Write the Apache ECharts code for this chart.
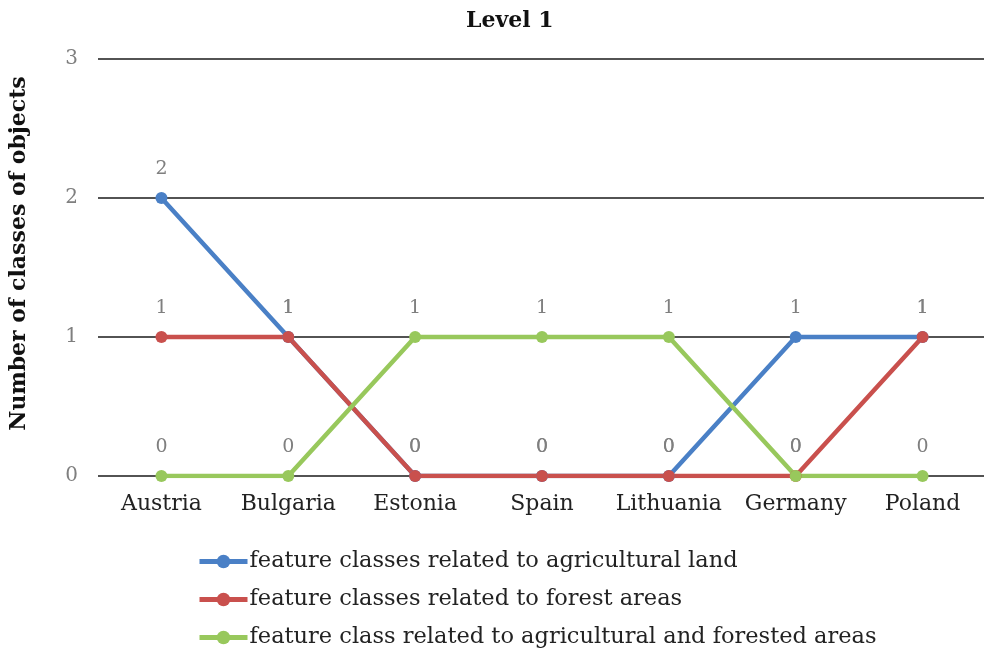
<!DOCTYPE html>
<html>
<head>
<meta charset="utf-8">
<script src="https://cdn.jsdelivr.net/npm/echarts@6/dist/echarts.min.js"></script>
<style>
  html, body { margin: 0; padding: 0; background: #fff; }
  #chart { width: 984px; height: 653px; }
</style>
</head>
<body>
<div id="chart"></div>
<script>
// Countries along the x axis
const countries = ['Austria', 'Bulgaria', 'Estonia', 'Spain', 'Lithuania', 'Germany', 'Poland'];

// Number of feature classes per country
const agriculturalLand = [2, 1, 0, 0, 0, 1, 1];
const forestAreas = [1, 1, 0, 0, 0, 0, 1];
const agriForestAreas = [0, 0, 1, 1, 1, 0, 0];

const seriesNames = [
  'feature classes related to agricultural land',
  'feature classes related to forest areas',
  'feature class related to agricultural and forested areas'
];
const yTicks = [0, 1, 2, 3];

const FONT = '"DejaVu Serif", "Liberation Serif", serif';
const colors = ['#4A80C6', '#C9504D', '#98C85C'];

function lineSeries(name, data, color) {
  return {
    name: name,
    type: 'line',
    data: data,
    symbol: 'circle',
    symbolSize: 12,
    color: color,
    lineStyle: { width: 4.5, color: color },
    itemStyle: { color: color },
    label: {
      show: true,
      position: 'top',
      distance: 13,
      color: '#7f7f7f',
      fontFamily: FONT,
      fontSize: 19
    },
    emphasis: { disabled: true },
    animation: false
  };
}

const chart = echarts.init(document.getElementById('chart'));
chart.setOption({
  backgroundColor: '#fff',
  title: {
    text: 'Level 1',
    left: 461,
    top: 5,
    textStyle: { fontFamily: FONT, fontWeight: 'bold', fontSize: 22, color: '#111' }
  },
  legend: {
    orient: 'vertical',
    left: 197,
    top: 550,
    padding: 0,
    itemWidth: 48,
    itemHeight: 17,
    itemGap: 15,
    data: seriesNames,
    lineStyle: { width: 5 },
    textStyle: { fontFamily: FONT, fontSize: 22.5, lineHeight: 22, color: '#222', padding: [0, 0, 0, -3] }
  },
  grid: { left: 98, right: -2, top: 59, bottom: 177, outerBoundsMode: 'none' },
  xAxis: {
    type: 'category',
    data: countries,
    boundaryGap: true,
    axisLine: { show: false },
    axisTick: { show: false },
    axisLabel: { interval: 0, fontFamily: FONT, fontSize: 22, color: '#222', margin: 17 }
  },
  yAxis: {
    type: 'value',
    min: yTicks[0],
    max: yTicks[yTicks.length - 1],
    interval: 1,
    name: 'Number of classes of objects',
    nameLocation: 'middle',
    nameGap: 68,
    nameRotate: 90,
    nameTextStyle: { fontFamily: FONT, fontWeight: 'bold', fontSize: 22, color: '#111', padding: [0, 0, 0, 28] },
    axisLine: { show: false },
    axisTick: { show: false },
    axisLabel: { fontFamily: FONT, fontSize: 20, color: '#7f7f7f', margin: 20 },
    splitLine: { lineStyle: { color: '#1a1a1a', width: 1.5 } }
  },
  series: [
    lineSeries(seriesNames[0], agriculturalLand, colors[0]),
    lineSeries(seriesNames[1], forestAreas, colors[1]),
    lineSeries(seriesNames[2], agriForestAreas, colors[2])
  ]
});
</script>
</body>
</html>
